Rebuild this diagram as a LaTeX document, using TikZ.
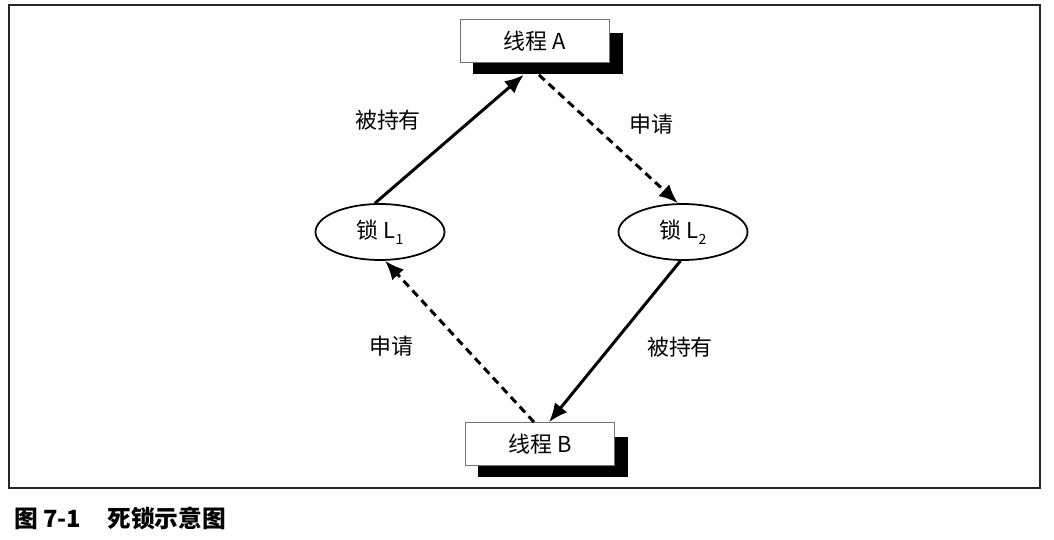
\documentclass[tikz,border=0pt]{standalone}
\usepackage{fontspec}
\setmainfont{Noto Sans CJK SC}
\usetikzlibrary{calc,shapes.geometric,arrows.meta}
\tikzset{
  threadbox/.style={draw=black!55,fill=white,minimum width=2.98cm,minimum height=0.86cm,inner sep=0pt,font=\fontsize{12.5}{14}\selectfont},
  shadowbox/.style={fill=black,minimum width=3.02cm,minimum height=0.82cm,inner sep=0pt},
  lockbox/.style={ellipse,draw,line width=1pt,minimum width=2.58cm,minimum height=1.12cm,inner sep=0pt,font=\fontsize{12.5}{14}\selectfont},
  holds/.style={line width=1.7pt,-{Latex[length=0.38cm,width=0.32cm]}},
  wants/.style={holds,dash pattern=on 4.5pt off 3pt},
  tag/.style={font=\fontsize{12.5}{14}\selectfont}
}
\newcommand{\THREAD}[3]{
  \node[shadowbox] (#1s) at ($ #2 + (13,13) $) {};
  \node[threadbox] (#1) at #2 { #3 };
}
\newcommand{\LOCK}[1]{锁 L\raisebox{-0.55ex}{\fontsize{8}{8}\selectfont #1}}

\begin{document}
\begin{tikzpicture}[x=0.02cm,y=-0.02cm]
  \useasboundingbox (0,0) rectangle (1054,540);
  \draw[line width=0.9pt,black!85] (9,5) rectangle (1040,488);

  \THREAD{A}{(535,41)}{线程 A}
  \THREAD{B}{(540,444)}{线程 B}
  \node[lockbox] (L1) at (380,232) {\LOCK{1}};
  \node[lockbox] (L2) at (683,232) {\LOCK{2}};

  \draw[holds] (L1.100) -- ($ (As.south west) ! 0.34 ! (As.south east) $);
  \draw[wants] ($ (As.south west) ! 0.44 ! (As.south east) $) -- (L2.100);
  \draw[holds] (L2.265) -- ($ (B.north west) ! 0.56 ! (B.north east) $);
  \draw[wants] ($ (B.north west) ! 0.46 ! (B.north east) $) -- (L1.280);

  \node[tag] (h1) at (388,120) {被持有};
  \node[tag] (w2) at (651,124) {申请};
  \node[tag] (w1) at (391,346) {申请};
  \node[tag] (h2) at (680,347) {被持有};

  \node[anchor=west,font=\fontsize{13.5}{15}\selectfont\bfseries] (cap) at (8,518) {图 7-1\hspace{1.1em}死锁示意图};
\end{tikzpicture}
\end{document}
